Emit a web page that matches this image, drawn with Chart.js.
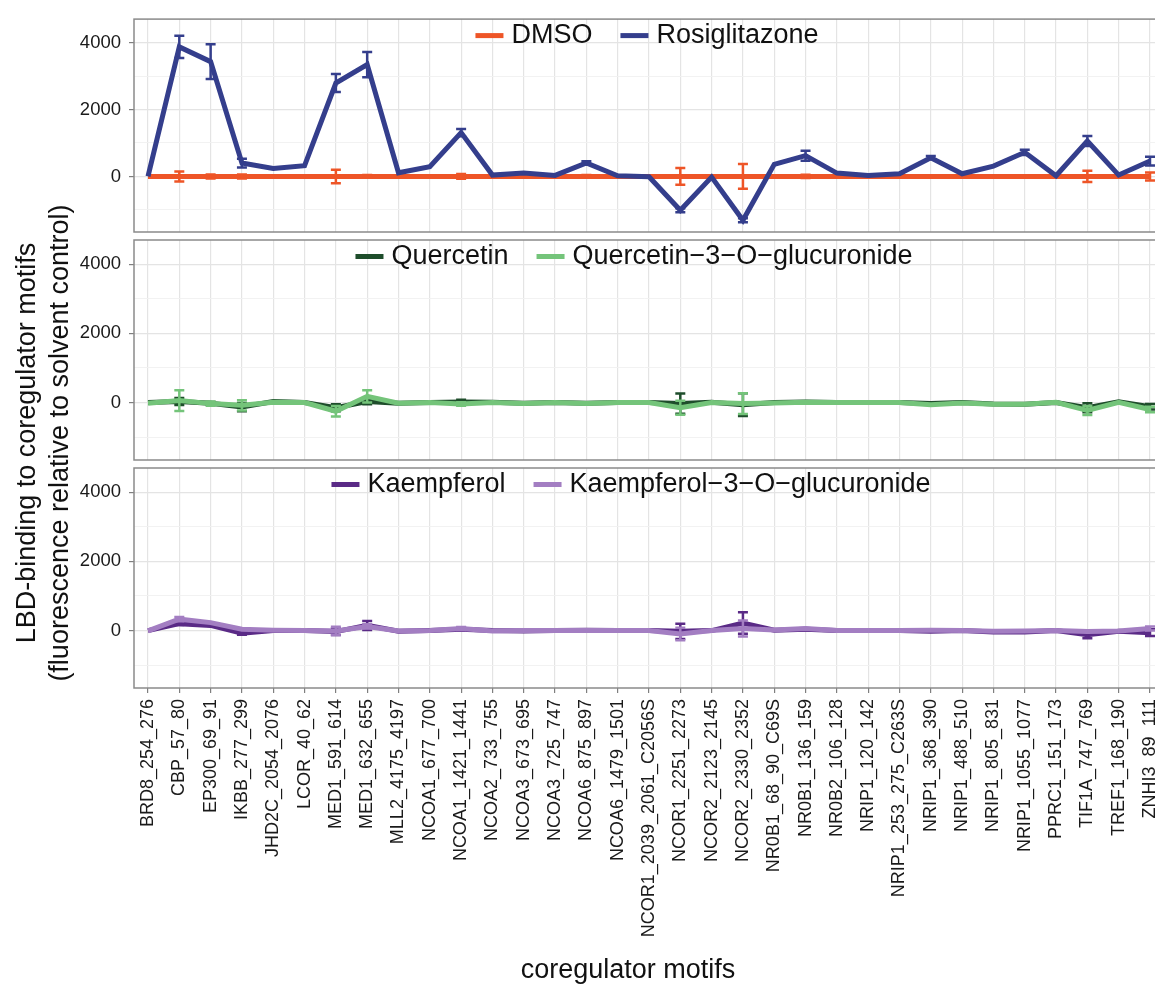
<!DOCTYPE html>
<html lang="en">
  <head>
    <meta charset="UTF-8" />
    <title>LBD-binding to coregulator motifs</title>
    <script src="https://cdn.jsdelivr.net/npm/chart.js"></script>
    <style>
      html, body { margin: 0; padding: 0; background: #fff; overflow: hidden; }
      #figure {
        position: relative;
        width: 1155px;
        height: 988px;
        overflow: hidden;
        font-family: "Liberation Sans", Arial, sans-serif;
        color: #111;
      }
      #figure canvas { position: absolute; left: 0; top: 0; }
      .ytitle {
        position: absolute;
        left: -257px;
        top: 410px;
        width: 600px;
        height: 66px;
        font-size: 27px;
        line-height: 33px;
        text-align: center;
        white-space: nowrap;
        transform: rotate(-90deg);
      }
      .xtitle {
        position: absolute;
        left: 328px;
        top: 952px;
        width: 600px;
        font-size: 27px;
        line-height: 34px;
        text-align: center;
      }
    </style>
  </head>
  <body>
    <div id="figure">
      <canvas id="panel1" width="1155" height="988"></canvas>
      <canvas id="panel2" width="1155" height="988"></canvas>
      <canvas id="panel3" width="1155" height="988"></canvas>
      <div class="ytitle">LBD-binding to coregulator motifs<br />(fluorescence relative to solvent control)</div>
      <div class="xtitle">coregulator motifs</div>
    </div>

    <script>
      // coregulator motifs on the x axis
      const motifs = [
        "BRD8_254_276", "CBP_57_80", "EP300_69_91", "IKBB_277_299",
        "JHD2C_2054_2076", "LCOR_40_62", "MED1_591_614", "MED1_632_655",
        "MLL2_4175_4197", "NCOA1_677_700", "NCOA1_1421_1441", "NCOA2_733_755",
        "NCOA3_673_695", "NCOA3_725_747", "NCOA6_875_897", "NCOA6_1479_1501",
        "NCOR1_2039_2061_C2056S", "NCOR1_2251_2273", "NCOR2_2123_2145",
        "NCOR2_2330_2352", "NR0B1_68_90_C69S", "NR0B1_136_159", "NR0B2_106_128",
        "NRIP1_120_142", "NRIP1_253_275_C263S", "NRIP1_368_390", "NRIP1_488_510",
        "NRIP1_805_831", "NRIP1_1055_1077", "PPRC1_151_173", "TIF1A_747_769",
        "TREF1_168_190", "ZNHI3_89_111"
      ];

      // panel 1
      const dmso = [0, 0, 0, 0, 0, 0, 0, 0, 0, 0, 0, 0, 0, 0, 0, 0, 0, 0, 0, 0, 0, 0, 0, 0, 0, 0, 0, 0, 0, 0, 0, 0, 0];
      const dmsoErr = [0, 150, 60, 60, 0, 0, 200, 40, 0, 0, 70, 0, 0, 0, 40, 0, 0, 250, 0, 370, 0, 50, 0, 0, 0, 0, 0, 0, 0, 0, 170, 0, 120];
      const rosiglitazone = [0, 3870, 3430, 400, 240, 320, 2790, 3340, 110, 290, 1310, 40, 100, 30, 400, 20, -10, -1010, -20, -1310, 360, 620, 100, 30, 80, 560, 80, 310, 720, 20, 1060, 40, 460];
      const rosiglitazoneErr = [0, 330, 520, 130, 0, 0, 270, 380, 0, 0, 110, 0, 0, 0, 50, 0, 0, 60, 0, 60, 0, 150, 0, 0, 0, 50, 0, 0, 80, 0, 150, 0, 130];

      // panel 2
      const quercetin = [0, 30, -20, -130, 30, 0, -150, 30, -20, 0, 20, 10, -20, 0, -20, 0, 0, -30, 10, -60, 0, 20, 0, 0, 0, -30, 0, -40, -50, 0, -150, 20, -120];
      const quercetinErr = [0, 100, 40, 120, 0, 0, 100, 80, 0, 0, 60, 0, 0, 0, 0, 0, 0, 290, 0, 330, 0, 0, 0, 0, 0, 0, 0, 0, 0, 0, 130, 0, 80];
      const quercetinGluc = [-20, 60, -30, -80, 10, 0, -250, 180, -20, 0, -40, 0, -30, 0, -30, 0, 0, -150, 0, -30, -10, 10, 0, 0, 0, -60, -10, -50, -50, 10, -230, 10, -200];
      const quercetinGlucErr = [0, 300, 60, 150, 0, 0, 150, 180, 0, 0, 50, 0, 0, 0, 0, 0, 0, 200, 0, 300, 0, 0, 0, 0, 0, 0, 0, 0, 0, 0, 130, 0, 80];

      // panel 3
      const kaempferol = [0, 200, 150, -80, 0, 0, -30, 150, -20, 0, 40, 0, -10, 0, 10, 0, 0, -20, 0, 220, 10, 40, 0, 0, 0, -20, 0, -40, -40, 0, -120, -20, -60];
      const kaempferolErr = [0, 40, 0, 40, 0, 0, 100, 130, 0, 0, 30, 0, 0, 0, 0, 0, 0, 220, 0, 310, 0, 0, 0, 0, 0, 0, 0, 0, 0, 0, 100, 0, 100];
      const kaempferolGluc = [-10, 330, 230, 40, 10, 0, -10, 120, -10, 0, 60, -10, 0, 0, 0, 0, 0, -100, 0, 60, 20, 60, 0, 0, 0, 10, 0, -20, -10, 0, -30, -10, 60];
      const kaempferolGlucErr = [0, 60, 0, 0, 0, 0, 120, 60, 0, 0, 40, 0, 0, 0, 0, 0, 0, 180, 0, 230, 0, 0, 0, 0, 0, 0, 0, 0, 0, 0, 0, 0, 60];

      // y axis ticks
      const yTickValues = [0, 2000, 4000];
      const yTickLabels = ["0", "2000", "4000"];
      const yMinorValues = [-1000, 1000, 3000];

      const FONT = '"Liberation Sans", Arial, sans-serif';

      // vertical error bars with caps
      const errorBars = {
        id: "errorBars",
        afterDatasetDraw(chart, args) {
          const ds = chart.data.datasets[args.index];
          if (!ds.errors) return;
          const yScale = chart.scales.y;
          const ctx = chart.ctx;
          ctx.save();
          ctx.strokeStyle = ds.borderColor;
          ctx.lineWidth = 2.5;
          args.meta.data.forEach((pt, i) => {
            const e = ds.errors[i];
            if (!e) return;
            const v = ds.data[i].y;
            const top = yScale.getPixelForValue(v + e);
            const bot = yScale.getPixelForValue(v - e);
            ctx.beginPath();
            ctx.moveTo(pt.x, top);
            ctx.lineTo(pt.x, bot);
            ctx.moveTo(pt.x - 5, top);
            ctx.lineTo(pt.x + 5, top);
            ctx.moveTo(pt.x - 5, bot);
            ctx.lineTo(pt.x + 5, bot);
            ctx.stroke();
          });
          ctx.restore();
        },
      };

      // grey panel border + legend inside the top of each panel
      const panelDecor = {
        id: "panelDecor",
        afterDraw(chart, args, opts) {
          const { ctx, chartArea } = chart;
          ctx.save();
          ctx.strokeStyle = "#8a8a8a";
          ctx.lineWidth = 1.5;
          ctx.strokeRect(chartArea.left, chartArea.top, chartArea.right + 20 - chartArea.left, chartArea.bottom - chartArea.top);

          ctx.font = "27px " + FONT;
          const sw = 28, gapText = 8, gapItem = 28;
          const items = chart.data.datasets;
          const widths = items.map((d) => sw + gapText + ctx.measureText(d.label).width);
          const total = widths.reduce((a, b) => a + b, 0) + gapItem * (items.length - 1);
          let x = opts.centerX - total / 2;
          const y = chartArea.top + 16.5;
          items.forEach((d, i) => {
            ctx.fillStyle = d.borderColor;
            ctx.fillRect(x, y - 2.5, sw, 5);
            ctx.fillStyle = "#111";
            ctx.textAlign = "left";
            ctx.textBaseline = "middle";
            ctx.fillText(d.label, x + sw + gapText, y);
            x += widths[i] + gapItem;
          });
          ctx.restore();
        },
      };

      function series(label, values, errors, color, order) {
        return {
          label: label,
          data: values.map((v, i) => ({ x: i, y: v })),
          errors: errors,
          borderColor: color,
          backgroundColor: color,
          borderWidth: 5,
          pointRadius: 0,
          fill: false,
          tension: 0,
          order: order,
        };
      }

      function makePanel(id, datasets, top, bottom, showLabels, legendX) {
        const ctx = document.getElementById(id).getContext("2d");
        return new Chart(ctx, {
          type: "line",
          data: { datasets: datasets },
          plugins: [errorBars, panelDecor],
          options: {
            responsive: false,
            animation: false,
            layout: { padding: { top: top, bottom: bottom, left: 0, right: 0 } },
            plugins: {
              legend: { display: false },
              tooltip: { enabled: false },
              panelDecor: { centerX: legendX },
            },
            scales: {
              x: {
                type: "linear",
                min: -0.447,
                max: 32.16,
                afterBuildTicks: (axis) => {
                  axis.ticks = motifs.map((m, i) => ({ value: i }));
                },
                afterFit: (axis) => {
                  axis.height = showLabels ? 300 : 0;
                  axis.paddingLeft = 0;
                  axis.paddingRight = 0;
                },
                border: { display: false },
                grid: {
                  color: "#e4e4e4",
                  lineWidth: 1.2,
                  drawTicks: showLabels,
                  tickLength: 5,
                  tickColor: "#7f7f7f",
                },
                ticks: {
                  display: showLabels,
                  autoSkip: false,
                  minRotation: 90,
                  maxRotation: 90,
                  padding: 6,
                  color: "#1a1a1a",
                  font: { family: FONT, size: 18 },
                  callback: (v) => motifs[v],
                },
              },
              y: {
                min: -1660,
                max: 4700,
                afterBuildTicks: (axis) => {
                  axis.ticks = yMinorValues.concat(yTickValues).sort((a, b) => a - b).map((v) => ({ value: v }));
                },
                afterFit: (axis) => {
                  axis.width = 134;
                },
                border: { display: false },
                grid: {
                  color: (c) => (yTickValues.includes(c.tick.value) ? "#e4e4e4" : "#f1f1f1"),
                  lineWidth: (c) => (yTickValues.includes(c.tick.value) ? 1.2 : 0.9),
                  tickLength: 5,
                  tickColor: (c) => (yTickValues.includes(c.tick.value) ? "#7f7f7f" : "rgba(0,0,0,0)"),
                },
                ticks: {
                  autoSkip: false,
                  padding: 8,
                  color: "#1a1a1a",
                  font: { family: FONT, size: 18.5 },
                  callback: (v) => {
                    const k = yTickValues.indexOf(v);
                    return k >= 0 ? yTickLabels[k] : "";
                  },
                },
              },
            },
          },
        });
      }

      makePanel("panel1", [
        series("DMSO", dmso, dmsoErr, "#EE5527", 1),
        series("Rosiglitazone", rosiglitazone, rosiglitazoneErr, "#343E8C", 0),
      ], 13, 756, false, 647);

      makePanel("panel2", [
        series("Quercetin", quercetin, quercetinErr, "#1E4D2B", 1),
        series("Quercetin\u22123\u2212O\u2212glucuronide", quercetinGluc, quercetinGlucErr, "#74C47A", 0),
      ], 240, 528, false, 634);

      makePanel("panel3", [
        series("Kaempferol", kaempferol, kaempferolErr, "#5A2A86", 1),
        series("Kaempferol\u22123\u2212O\u2212glucuronide", kaempferolGluc, kaempferolGlucErr, "#A37EC2", 0),
      ], 468, 0, true, 631);
    </script>
  </body>
</html>
